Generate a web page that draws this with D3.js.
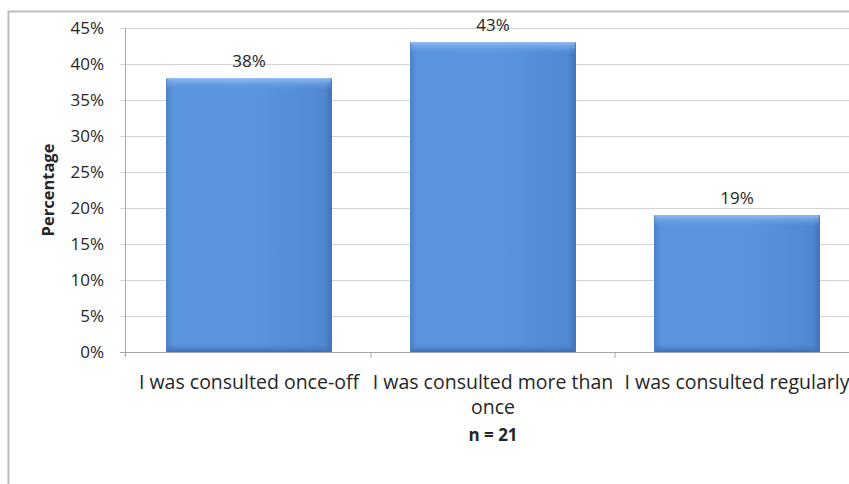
<!DOCTYPE html>
<html>
<head>
<meta charset="utf-8">
<script src="https://cdn.jsdelivr.net/npm/d3@7"></script>
<style>
  html, body { margin: 0; padding: 0; background: #fff; }
  svg { display: block; }
  text { font-family: "Open Sans", "Noto Sans", sans-serif; fill: #262626; }
</style>
</head>
<body>
<svg id="chart" width="849" height="484"></svg>
<script>
// Survey responses on consultation frequency (n = 21)
const categories = [
  "I was consulted once-off",
  "I was consulted more than once",
  "I was consulted regularly"
];
const percentages = [38, 43, 19];
const yTicks = [0, 5, 10, 15, 20, 25, 30, 35, 40, 45];
const axisTitle = "Percentage";
const sampleNote = "n = 21";

const W = 849, H = 484;
const margin = { left: 127, top: 28, bottom: 132 };
const plotRight = 859;
const plotBottom = H - margin.bottom;

const svg = d3.select("#chart");

// outer chart frame
svg.append("rect")
  .attr("x", 8.5).attr("y", 11.5)
  .attr("width", W + 10).attr("height", H - 12 + 10)
  .attr("fill", "#fff")
  .attr("stroke", "#bdbdbd").attr("stroke-width", 2);

const x = d3.scaleBand()
  .domain(categories)
  .range([margin.left, plotRight])
  .paddingInner(0.32)
  .paddingOuter(0.16);

const y = d3.scaleLinear()
  .domain([0, 45])
  .range([plotBottom, margin.top]);

// gradients for the bevelled bars
const defs = svg.append("defs");
const hGrad = defs.append("linearGradient").attr("id", "barH")
  .attr("x1", "0").attr("x2", "1").attr("y1", "0").attr("y2", "0");
hGrad.append("stop").attr("offset", "0").attr("stop-color", "#4a7fc6");
hGrad.append("stop").attr("offset", "0.04").attr("stop-color", "#5a93de");
hGrad.append("stop").attr("offset", "0.5").attr("stop-color", "#5b95e0");
hGrad.append("stop").attr("offset", "0.95").attr("stop-color", "#5089d2");
hGrad.append("stop").attr("offset", "1").attr("stop-color", "#3f72b8");

const topGrad = defs.append("linearGradient").attr("id", "barTop")
  .attr("x1", "0").attr("x2", "0").attr("y1", "0").attr("y2", "1");
topGrad.append("stop").attr("offset", "0").attr("stop-color", "#8fbaf0");
topGrad.append("stop").attr("offset", "1").attr("stop-color", "#5b95e0").attr("stop-opacity", 0);

const botGrad = defs.append("linearGradient").attr("id", "barBot")
  .attr("x1", "0").attr("x2", "0").attr("y1", "0").attr("y2", "1");
botGrad.append("stop").attr("offset", "0").attr("stop-color", "#4a80c8").attr("stop-opacity", 0);
botGrad.append("stop").attr("offset", "1").attr("stop-color", "#3d6fb3");

// horizontal gridlines with outside ticks
const yAxis = d3.axisLeft(y)
  .tickValues(yTicks)
  .tickSize(-(W - margin.left + 6))
  .tickPadding(21)
  .tickFormat(d => d + "%");

const gy = svg.append("g")
  .attr("transform", `translate(${margin.left - 2},0)`)
  .call(yAxis);
gy.select(".domain").remove();
gy.selectAll(".tick line")
  .attr("x1", -5)
  .attr("stroke", "#d4d4d4");
gy.selectAll(".tick text")
  .attr("font-size", 17)
  .attr("fill", "#333");

// vertical axis line
svg.append("line")
  .attr("x1", margin.left - 1.5).attr("x2", margin.left - 1.5)
  .attr("y1", margin.top).attr("y2", plotBottom + 5)
  .attr("stroke", "#a6a6a6");

// category axis with boundary ticks
const gx = svg.append("g")
  .attr("transform", `translate(0,${plotBottom})`);
gx.append("line")
  .attr("x1", margin.left - 7).attr("x2", W)
  .attr("y1", 0.5).attr("y2", 0.5)
  .attr("stroke", "#a6a6a6");
const step = x.step();
const boundaries = categories.map((c, i) => x(c) - x.paddingInner() * step / 2 + step)
  .slice(0, categories.length - 1);
gx.selectAll("line.bound")
  .data(boundaries)
  .join("line")
  .attr("class", "bound")
  .attr("x1", d => d).attr("x2", d => d)
  .attr("y1", 0).attr("y2", 6)
  .attr("stroke", "#a6a6a6");

// bars
const bars = svg.append("g").selectAll("g.bar")
  .data(categories.map((c, i) => ({ c, v: percentages[i] })))
  .join("g").attr("class", "bar");

bars.append("rect")
  .attr("x", d => x(d.c))
  .attr("y", d => y(d.v))
  .attr("width", x.bandwidth())
  .attr("height", d => y(0) - y(d.v))
  .attr("fill", "url(#barH)");

bars.append("rect")
  .attr("x", d => x(d.c) + 1)
  .attr("y", d => y(d.v))
  .attr("width", x.bandwidth() - 2)
  .attr("height", 12)
  .attr("fill", "url(#barTop)");

bars.append("rect")
  .attr("x", d => x(d.c) + 1)
  .attr("y", d => y(0) - 8)
  .attr("width", x.bandwidth() - 2)
  .attr("height", 8)
  .attr("fill", "url(#barBot)");

// value labels
bars.append("text")
  .attr("x", d => x(d.c) + x.bandwidth() / 2)
  .attr("y", d => y(d.v) - 11)
  .attr("text-anchor", "middle")
  .attr("font-size", 17)
  .attr("fill", "#333")
  .text(d => d.v + "%");

// category labels, wrapped to the band width
const labelWidth = 250;
categories.forEach(c => {
  const cx = x(c) + x.bandwidth() / 2;
  const t = svg.append("text")
    .attr("x", cx).attr("y", plotBottom + 37)
    .attr("text-anchor", "middle")
    .attr("font-size", 19.5)
    .attr("fill", "#333");
  const words = c.split(" ");
  let line = [];
  let tspan = t.append("tspan").attr("x", cx).attr("dy", 0);
  words.forEach(w => {
    line.push(w);
    tspan.text(line.join(" "));
    if (tspan.node().getComputedTextLength() > labelWidth && line.length > 1) {
      line.pop();
      tspan.text(line.join(" "));
      line = [w];
      tspan = t.append("tspan").attr("x", cx).attr("dy", 25).text(w);
    }
  });
});

// sample size note
svg.append("text")
  .attr("x", x(categories[1]) + x.bandwidth() / 2)
  .attr("y", plotBottom + 89)
  .attr("text-anchor", "middle")
  .attr("font-size", 17)
  .attr("font-weight", "bold")
  .attr("fill", "#222")
  .text(sampleNote);

// y axis title
svg.append("text")
  .attr("transform", `translate(54,${(margin.top + plotBottom) / 2}) rotate(-90)`)
  .attr("text-anchor", "middle")
  .attr("font-size", 16.5)
  .attr("font-weight", "bold")
  .attr("fill", "#222")
  .text(axisTitle);
</script>
</body>
</html>
